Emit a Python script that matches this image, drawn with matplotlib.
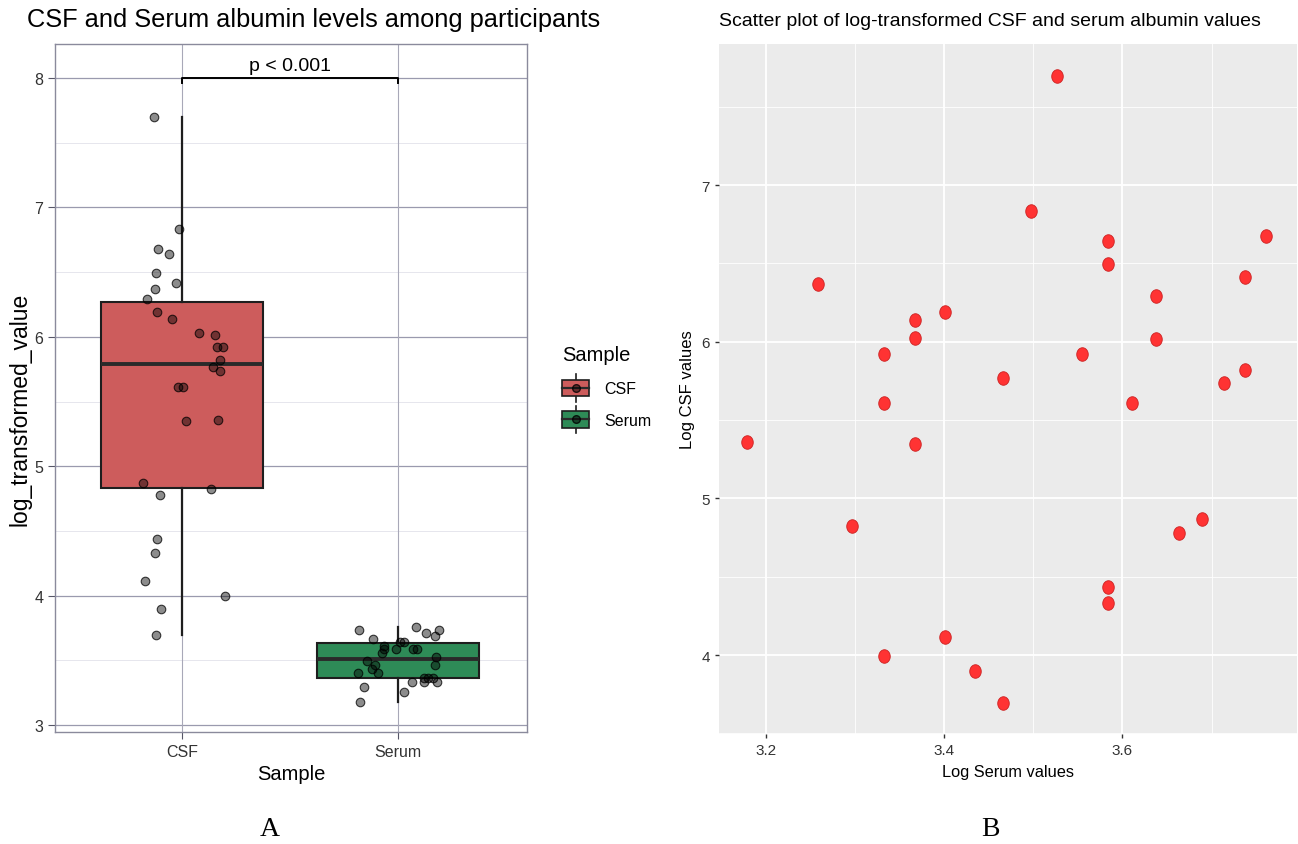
import numpy as np
import matplotlib
matplotlib.use("Agg")
import matplotlib.pyplot as plt
from matplotlib.patches import Rectangle
from matplotlib.lines import Line2D
from matplotlib.legend_handler import HandlerBase
from matplotlib.path import Path
from matplotlib.ticker import MultipleLocator

# ---------------- data ----------------
# log-transformed CSF albumin (one per participant)
csf_log = [7.697, 6.834, 6.675, 6.643, 6.496, 6.413, 6.368, 6.292, 6.190, 6.140,
           6.026, 6.017, 5.923, 5.921, 5.819, 5.768, 5.736, 5.609, 5.609, 5.360,
           5.347, 4.869, 4.824, 4.779, 4.435, 4.333, 4.115, 3.994, 3.898, 3.694]
# log-transformed serum albumin, paired with csf_log
serum_log = [3.526, 3.497, 3.761, 3.584, 3.584, 3.738, 3.258, 3.638, 3.401, 3.367,
             3.367, 3.638, 3.332, 3.555, 3.738, 3.466, 3.714, 3.332, 3.611, 3.178,
             3.367, 3.689, 3.296, 3.664, 3.584, 3.584, 3.401, 3.332, 3.434, 3.466]

# jitter offsets of the points in panel A
csf_jitter = [-0.132, -0.016, -0.113, -0.062, -0.120, -0.029, -0.125, -0.162, -0.118, -0.048,
              0.078, 0.154, 0.163, 0.189, 0.177, 0.143, 0.177, -0.017, 0.006, 0.168,
              0.019, -0.179, 0.135, -0.104, -0.116, -0.124, -0.172, 0.197, -0.098, -0.121]
serum_box_vals = [3.738, 3.664, 3.761, 3.714, 3.738, 3.689, 3.296, 3.178, 3.332, 3.258,
                  3.332, 3.332, 3.367, 3.367, 3.638, 3.611, 3.584, 3.584, 3.584, 3.584,
                  3.497, 3.466, 3.526, 3.466, 3.434, 3.401, 3.401, 3.638, 3.555, 3.367]
serum_jitter = [-0.182, -0.116, 0.085, 0.128, 0.188, 0.170, -0.159, -0.174, 0.065, 0.028,
                0.119, 0.180, 0.162, 0.119, 0.026, -0.066, -0.063, -0.008, 0.069, 0.088,
                -0.144, -0.108, 0.174, 0.171, -0.120, -0.093, -0.185, 0.010, -0.075, 0.140]

groups = ["CSF", "Serum"]
group_colors = ["#CD5C5C", "#2E8B57"]
p_label = "p < 0.001"
bracket_y = 8.0

title_a = "CSF and Serum albumin levels among participants"
title_b = "Scatter plot of log-transformed CSF and serum albumin values"

W, H = 1298, 845
fig = plt.figure(figsize=(W / 100, H / 100), dpi=100)
fig.patch.set_facecolor("white")

SANS = ["Liberation Sans", "DejaVu Sans"]
NARROW = ["Liberation Sans Narrow", "Liberation Sans", "DejaVu Sans"]

def px_box(l, t, r, b):
    return [l / W, 1 - b / H, (r - l) / W, (b - t) / H]

# ================= Panel A =================
axA = fig.add_axes(px_box(55, 45, 527, 733))
axA.set_xlim(0.412, 2.597)
axA.set_ylim(2.946, 8.263)
axA.set_facecolor("white")

for y in [3, 4, 5, 6, 7, 8]:
    axA.axhline(y, color="#9a9aae", lw=0.9, zorder=0)
for y in [3.5, 4.5, 5.5, 6.5, 7.5]:
    axA.axhline(y, color="#e2e2ea", lw=0.6, zorder=0)
for x in [1, 2]:
    axA.axvline(x, color="#a8a8b8", lw=0.8, zorder=0)

bp = axA.boxplot([csf_log, serum_box_vals], positions=[1, 2], widths=0.75,
                 patch_artist=True, showcaps=False, showfliers=False, whis=1.5,
                 zorder=2)
for patch, c in zip(bp["boxes"], group_colors):
    patch.set_facecolor(c)
    patch.set_edgecolor("#1e1e1e")
    patch.set_linewidth(1.5)
for m in bp["medians"]:
    m.set_color("#2a2a2a")
    m.set_linewidth(2.8)
for w in bp["whiskers"]:
    w.set_color("#1e1e1e")
    w.set_linewidth(1.6)

xs_csf = [1 + j for j in csf_jitter]
xs_ser = [2 + j for j in serum_jitter]
axA.scatter(xs_csf, csf_log, s=38, facecolor=(0, 0, 0, 0.45),
            edgecolor=(0, 0, 0, 0.75), linewidth=0.8, zorder=3)
axA.scatter(xs_ser, serum_box_vals, s=38, facecolor=(0, 0, 0, 0.45),
            edgecolor=(0, 0, 0, 0.75), linewidth=0.8, zorder=3)

# significance bracket
axA.plot([1, 1, 2, 2], [bracket_y - 0.04, bracket_y, bracket_y, bracket_y - 0.04],
         color="black", lw=1.4, zorder=4, clip_on=False)
axA.text(1.5, bracket_y + 0.035, p_label, ha="center", va="bottom",
         fontsize=14, family=SANS, color="black")

axA.set_xticks([1, 2])
axA.set_xticklabels(groups)
axA.set_yticks([3, 4, 5, 6, 7, 8])
axA.tick_params(axis="both", colors="#555566", length=5, width=0.8,
                labelsize=11.5, labelcolor="#333333")
for lab in axA.get_xticklabels() + axA.get_yticklabels():
    lab.set_family(SANS)
for s in axA.spines.values():
    s.set_color("#8a8a9c")
    s.set_linewidth(1.0)
axA.set_xlabel("Sample", fontsize=14.5, family=SANS, labelpad=4)
fig.text(20 / W, 1 - 409 / H, "log_transformed_value", rotation=90,
         ha="center", va="center", fontsize=16.5, family=SANS)

fig.text(27 / W, 1 - 20 / H, title_a, ha="left", va="center",
         fontsize=18.3, family=SANS, color="black")

# legend with box-plot glyph keys
class BoxHandler(HandlerBase):
    def create_artists(self, legend, orig_handle, xdescent, ydescent, width,
                       height, fontsize, trans):
        fc = orig_handle.get_facecolor()
        x0, y0 = -xdescent, -ydescent
        cx, cy = x0 + width / 2, y0 + height / 2
        arts = [
            Line2D([cx, cx], [y0 - height * 0.35, y0 + height * 1.35],
                   color="#1e1e1e", lw=1.2, transform=trans),
            Rectangle((x0, y0), width, height, facecolor=fc,
                      edgecolor="#1e1e1e", lw=1.2, transform=trans),
            Line2D([x0, x0 + width], [cy, cy], color="#2a2a2a", lw=1.6,
                   transform=trans),
            Line2D([cx], [cy], marker="o", markersize=5.5,
                   markerfacecolor=(0, 0, 0, 0.5),
                   markeredgecolor=(0, 0, 0, 0.8), lw=0, transform=trans),
        ]
        return arts

handles = [Rectangle((0, 0), 1, 1, facecolor=c) for c in group_colors]
leg = fig.legend(handles, groups, handler_map={Rectangle: BoxHandler()},
                 loc="upper left", bbox_to_anchor=(556 / W, 1 - 340 / H),
                 frameon=False, title="Sample", prop={"family": SANS, "size": 11.5},
                 title_fontproperties={"family": SANS, "size": 14.5},
                 handlelength=1.65, handleheight=1.2, labelspacing=0.95,
                 handletextpad=1.0, borderaxespad=0)
leg._legend_box.align = "left"

# ================= Panel B =================
axB = fig.add_axes(px_box(719, 45, 1297, 735))
axB.set_facecolor("#EBEBEB")
axB.set_xlim(3.147, 3.796)
axB.set_ylim(3.496, 7.90)
axB.xaxis.set_major_locator(MultipleLocator(0.2))
axB.xaxis.set_minor_locator(MultipleLocator(0.1))
axB.yaxis.set_major_locator(MultipleLocator(1))
axB.yaxis.set_minor_locator(MultipleLocator(0.5))
axB.grid(which="major", color="white", lw=1.3)
axB.grid(which="minor", color="white", lw=0.6)
axB.set_axisbelow(True)
for s in axB.spines.values():
    s.set_visible(False)
axB.tick_params(which="major", length=3, width=1.0, color="#333333",
                labelsize=11, labelcolor="#333333")
axB.tick_params(which="minor", length=0)
for lab in axB.get_xticklabels() + axB.get_yticklabels():
    lab.set_family(NARROW)

t = np.linspace(0, 2 * np.pi, 60)
ell = Path(np.column_stack([0.85 * np.cos(t), np.sin(t)]))
axB.scatter(serum_log, csf_log, s=95, marker=ell, facecolor="#FF3333",
            edgecolor="#CC2222", linewidth=0.6, zorder=3)

axB.set_xlabel("Log Serum values", fontsize=11.8, family=NARROW, labelpad=5)
axB.set_ylabel("Log CSF values", fontsize=12, family=NARROW, labelpad=5)
fig.text(719 / W, 1 - 22 / H, title_b, ha="left", va="center",
         fontsize=14, family=NARROW, color="black")

# panel labels
fig.text(270 / W, 1 - 830 / H, "A", ha="center", va="center", fontsize=20,
         family=["Liberation Serif", "DejaVu Serif"])
fig.text(990 / W, 1 - 830 / H, "B", ha="center", va="center", fontsize=20,
         family=["Liberation Serif", "DejaVu Serif"])

fig.savefig("out.png", dpi=100, facecolor="white")
